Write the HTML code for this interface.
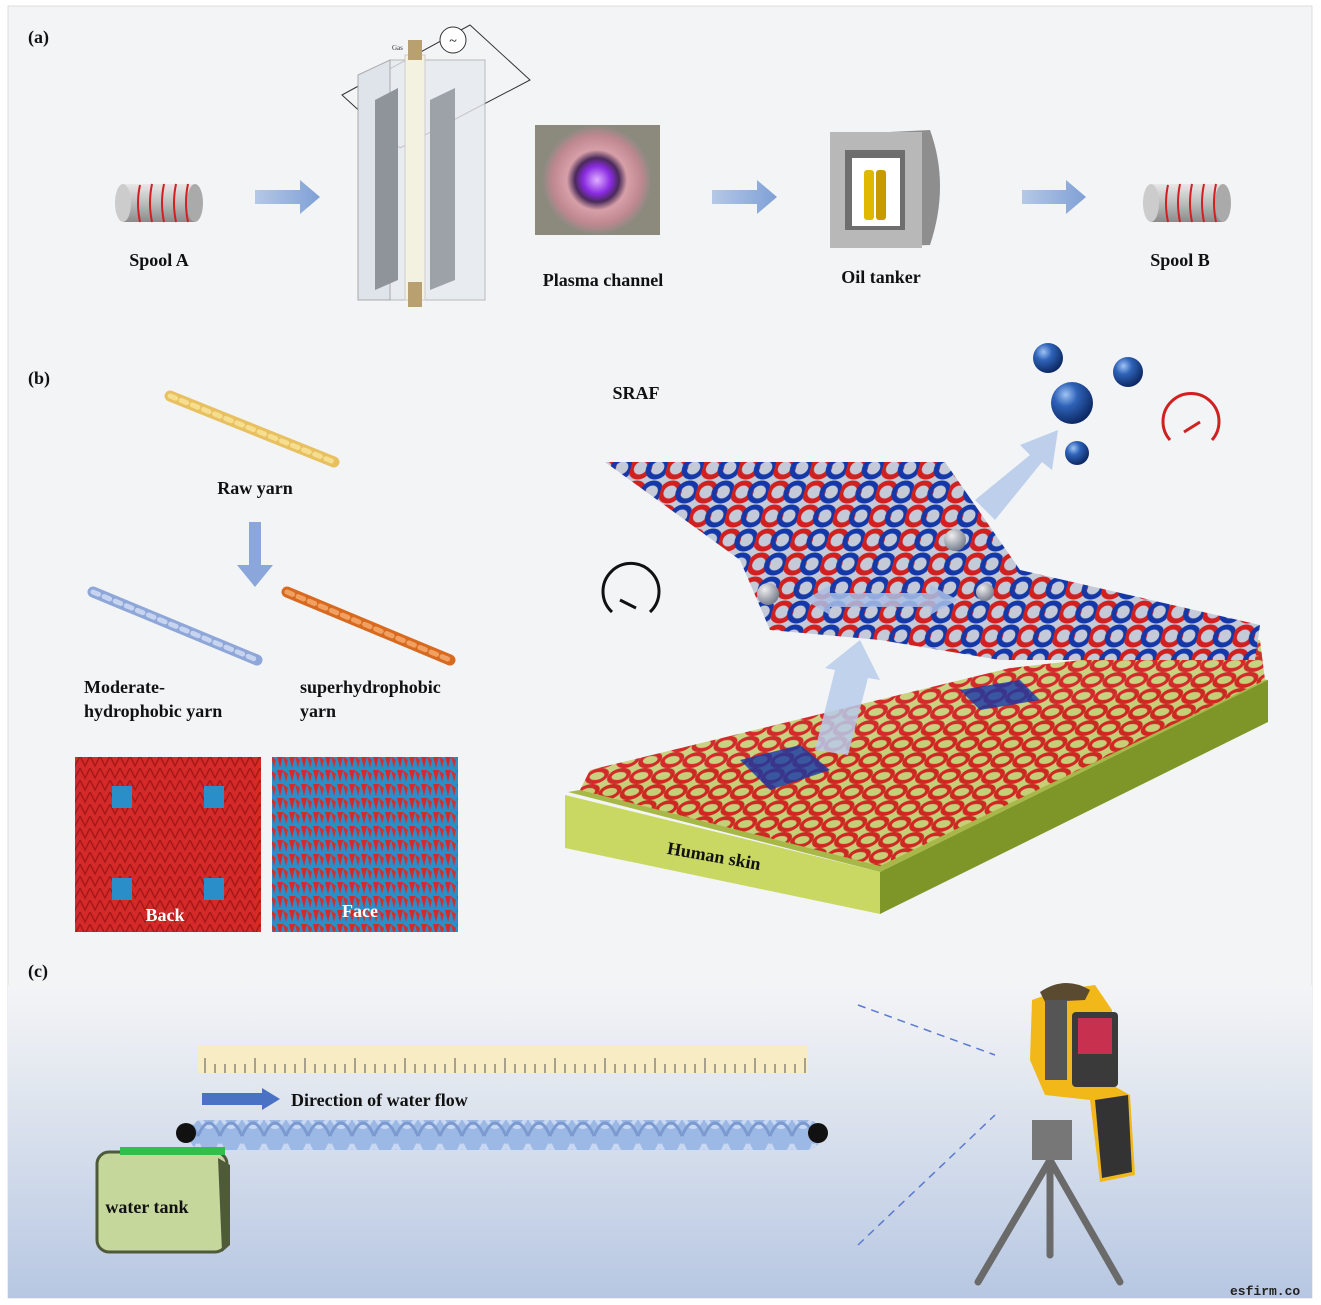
<!DOCTYPE html>
<html><head><meta charset="utf-8"><style>
html,body{margin:0;padding:0;background:#fff;}
svg{display:block;font-family:"Liberation Serif",serif;}
.l{font-weight:bold;font-size:18px;fill:#111;}
</style></head><body>
<svg width="1321" height="1305" viewBox="0 0 1321 1305" xmlns="http://www.w3.org/2000/svg">
<defs>
<linearGradient id="bgc" x1="0" y1="0" x2="0" y2="1"><stop offset="0" stop-color="#f3f4f6"/><stop offset="0.3" stop-color="#e3e8f0"/><stop offset="1" stop-color="#b7c7e2"/></linearGradient>
<linearGradient id="cyl" x1="0" y1="0" x2="0" y2="1"><stop offset="0" stop-color="#e8e8e8"/><stop offset="0.5" stop-color="#bdbdbd"/><stop offset="1" stop-color="#8a8a8a"/></linearGradient>
<linearGradient id="arr" x1="0" y1="0" x2="1" y2="0"><stop offset="0" stop-color="#b5c8e6"/><stop offset="1" stop-color="#7fa0d6"/></linearGradient>
<radialGradient id="ball" cx="0.35" cy="0.3" r="0.7"><stop offset="0" stop-color="#9fc3f5"/><stop offset="0.4" stop-color="#2f63b8"/><stop offset="1" stop-color="#0d2a66"/></radialGradient>
<radialGradient id="gball" cx="0.35" cy="0.3" r="0.7"><stop offset="0" stop-color="#eee"/><stop offset="1" stop-color="#7a8090"/></radialGradient>
<radialGradient id="pl" cx="0.5" cy="0.5" r="0.5"><stop offset="0" stop-color="#e0b0ff"/><stop offset="0.25" stop-color="#8a2be2"/><stop offset="0.4" stop-color="#4a2a5a"/><stop offset="0.55" stop-color="#d7a0a8"/><stop offset="0.8" stop-color="#c08890"/><stop offset="1" stop-color="#8a8a80"/></radialGradient>
<pattern id="knitR" width="10" height="12" patternUnits="userSpaceOnUse"><rect width="10" height="12" fill="#d42a2a"/><path d="M0 0 L5 10 L10 0" stroke="#a81818" stroke-width="1.5" fill="none"/></pattern>
<pattern id="knitF" width="12" height="14" patternUnits="userSpaceOnUse"><rect width="12" height="14" fill="#2a8fc8"/><path d="M1 0 L4 12 L7 0Z" fill="#d42a2a"/><path d="M7 0 L10 12 L12 4" fill="#d03030"/></pattern>
<pattern id="loopR" width="22" height="16" patternUnits="userSpaceOnUse" patternTransform="skewX(-30)"><rect width="22" height="16" fill="#c7d07a"/><ellipse cx="11" cy="8" rx="9" ry="6" fill="none" stroke="#d02020" stroke-width="4"/></pattern>
<pattern id="loopRB" width="36" height="24" patternUnits="userSpaceOnUse" patternTransform="skewX(-15)"><rect width="36" height="24" fill="#c4cad8"/><ellipse cx="10" cy="12" rx="9" ry="9" fill="none" stroke="#d02020" stroke-width="5"/><ellipse cx="27" cy="12" rx="9" ry="9" fill="none" stroke="#1538a8" stroke-width="5"/></pattern>
<pattern id="rope" width="22" height="30" patternUnits="userSpaceOnUse"><rect width="22" height="30" fill="#9cb8e4"/><path d="M0 4 Q11 30 22 4" stroke="#c8d8f2" stroke-width="4" fill="none"/><path d="M0 26 Q11 0 22 26" stroke="#7c9ad0" stroke-width="3" fill="none"/></pattern>
</defs>

<rect x="8" y="6" width="1304" height="1292" fill="#f3f4f6" stroke="#ddd"/>
<rect x="8" y="985" width="1304" height="313" fill="url(#bgc)"/>

<text x="28" y="43" class="l" font-size="17">(a)</text>
<text x="28" y="384" class="l" font-size="17">(b)</text>
<text x="28" y="977" class="l" font-size="17">(c)</text>

<g>
<rect x="123" y="184" width="72" height="38" fill="url(#cyl)"/>
<ellipse cx="123" cy="203" rx="8" ry="19" fill="#ccc"/>
<ellipse cx="195" cy="203" rx="8" ry="19" fill="#aaa"/>
<g stroke="#d02020" stroke-width="2" fill="none"><path d="M140 185 Q136 203 140 222"/><path d="M152 184 Q148 203 152 222"/><path d="M164 184 Q160 203 164 222"/><path d="M176 184 Q172 203 176 222"/><path d="M188 184 Q184 203 188 222"/></g>
</g>
<text x="159" y="266" class="l" text-anchor="middle">Spool A</text>
<g>
<rect x="1151" y="184" width="72" height="38" fill="url(#cyl)"/>
<ellipse cx="1151" cy="203" rx="8" ry="19" fill="#ccc"/>
<ellipse cx="1223" cy="203" rx="8" ry="19" fill="#aaa"/>
<g stroke="#d02020" stroke-width="2" fill="none"><path d="M1168 185 Q1164 203 1168 222"/><path d="M1180 184 Q1176 203 1180 222"/><path d="M1192 184 Q1188 203 1192 222"/><path d="M1204 184 Q1200 203 1204 222"/><path d="M1216 184 Q1212 203 1216 222"/></g>
</g>
<text x="1180" y="266" class="l" text-anchor="middle">Spool B</text>

<g fill="url(#arr)">
<path d="M255 190 L300 190 L300 180 L320 197 L300 214 L300 204 L255 204Z"/>
<path d="M712 190 L757 190 L757 180 L777 197 L757 214 L757 204 L712 204Z"/>
<path d="M1022 190 L1066 190 L1066 180 L1086 197 L1066 214 L1066 204 L1022 204Z"/>
</g>

<g>
<path d="M342 95 L470 25 L530 80 L400 148Z" fill="none" stroke="#333" stroke-width="1"/>
<path d="M358 75 L390 60 L390 300 L358 300Z" fill="#dfe3ea" stroke="#aaa"/>
<path d="M390 60 L485 60 L485 300 L390 300Z" fill="#e6e9ef" opacity="0.8" stroke="#aaa"/>
<path d="M375 100 L398 88 L398 280 L375 290Z" fill="#8f939a"/>
<path d="M430 100 L455 88 L455 280 L430 290Z" fill="#9da1a8"/>
<rect x="405" y="55" width="20" height="245" fill="#f3f1e0" stroke="#ccc"/>
<rect x="408" y="40" width="14" height="20" fill="#b8a070"/>
<rect x="408" y="282" width="14" height="25" fill="#b8a070"/>
<circle cx="453" cy="40" r="13" fill="#fff" stroke="#333"/>
<text x="453" y="45" font-size="14" text-anchor="middle">~</text>
<text x="392" y="50" font-size="7" fill="#333">Gas</text>
</g>
<rect x="535" y="125" width="125" height="110" fill="#8c8a7c"/>
<circle cx="597" cy="180" r="55" fill="url(#pl)"/>
<text x="603" y="286" class="l" text-anchor="middle">Plasma channel</text>
<g>
<path d="M830 135 L930 130 Q950 185 930 245 L830 248Z" fill="#8e8e8e"/>
<rect x="830" y="132" width="92" height="116" fill="#b8b8b8"/>
<rect x="845" y="150" width="60" height="80" fill="#6e6e6e"/>
<rect x="852" y="158" width="48" height="68" fill="#fff"/>
<rect x="864" y="170" width="10" height="50" rx="3" fill="#e0b800"/>
<rect x="876" y="170" width="10" height="50" rx="3" fill="#c89a00"/>
</g>
<text x="881" y="283" class="l" text-anchor="middle">Oil tanker</text>

<g stroke-linecap="round">
<line x1="170" y1="396" x2="334" y2="462" stroke="#e8c060" stroke-width="11"/>
<line x1="170" y1="396" x2="334" y2="462" stroke="#f5de90" stroke-width="5" stroke-dasharray="6 6"/>
<line x1="93" y1="592" x2="257" y2="660" stroke="#8ea6d8" stroke-width="11"/>
<line x1="93" y1="592" x2="257" y2="660" stroke="#c7d4f0" stroke-width="5" stroke-dasharray="6 6"/>
<line x1="287" y1="592" x2="450" y2="660" stroke="#d86a20" stroke-width="11"/>
<line x1="287" y1="592" x2="450" y2="660" stroke="#f0a060" stroke-width="5" stroke-dasharray="6 6"/>
</g>
<text x="255" y="494" class="l" text-anchor="middle">Raw yarn</text>
<path d="M249 522 L261 522 L261 565 L273 565 L255 587 L237 565 L249 565Z" fill="#8aa6da"/>
<text x="84" y="693" class="l">Moderate-</text>
<text x="84" y="717" class="l">hydrophobic yarn</text>
<text x="300" y="693" class="l">superhydrophobic</text>
<text x="300" y="717" class="l">yarn</text>
<rect x="75" y="757" width="186" height="175" fill="url(#knitR)"/>
<g fill="#2a8fc8"><rect x="112" y="786" width="20" height="22"/><rect x="204" y="786" width="20" height="22"/><rect x="112" y="878" width="20" height="22"/><rect x="204" y="878" width="20" height="22"/></g>
<text x="165" y="921" class="l" style="fill:#fff" text-anchor="middle">Back</text>
<rect x="272" y="757" width="186" height="175" fill="url(#knitF)"/>
<text x="360" y="917" class="l" style="fill:#fff" text-anchor="middle">Face</text>

<text x="636" y="399" class="l" text-anchor="middle">SRAF</text>
<path d="M612 612 A28 28 0 1 1 650 612" fill="none" stroke="#111" stroke-width="3"/>
<line x1="620" y1="600" x2="636" y2="608" stroke="#111" stroke-width="3"/>
<path d="M1170 440 A28 28 0 1 1 1212 440" fill="none" stroke="#d02020" stroke-width="3"/>
<line x1="1184" y1="432" x2="1200" y2="422" stroke="#d02020" stroke-width="3"/>
<circle cx="1048" cy="358" r="15" fill="url(#ball)"/>
<circle cx="1128" cy="372" r="15" fill="url(#ball)"/>
<circle cx="1072" cy="403" r="21" fill="url(#ball)"/>
<circle cx="1077" cy="453" r="12" fill="url(#ball)"/>
<path d="M568 792 L1238 676 L1268 680 L880 872Z" fill="#a8b848"/>
<path d="M565 795 L880 872 L880 914 L565 848Z" fill="#c9d862"/>
<path d="M880 872 L1268 680 L1268 722 L880 914Z" fill="#7e9628"/>
<text x="714" y="862" class="l" transform="rotate(10 714 856)" text-anchor="middle">Human skin</text>
<path d="M590 770 L1010 668 L1260 640 L1265 680 L880 866 L580 790Z" fill="url(#loopR)" opacity="0.95"/>
<path d="M740 760 L800 745 L830 770 L770 790Z" fill="#1538a8" opacity="0.8"/>
<path d="M960 690 L1020 680 L1040 700 L980 710Z" fill="#1538a8" opacity="0.8"/>
<path d="M605 462 L945 462 L1020 570 L1260 625 L1255 660 L1000 660 L880 640 L770 630 L740 560Z" fill="url(#loopRB)"/>
<path d="M815 750 L835 670 L825 668 L860 640 L880 680 L868 678 L848 755Z" fill="#b7cbea" opacity="0.85"/>
<path d="M805 600 L830 585 L830 593 L930 593 L930 585 L958 600 L930 615 L930 607 L830 607 L830 615Z" fill="#a9c0e6" opacity="0.85"/>
<path d="M975 500 L1030 455 L1020 445 L1058 430 L1052 470 L1042 462 L995 520Z" fill="#b7cbea" opacity="0.9"/>
<circle cx="955" cy="540" r="11" fill="url(#gball)"/>
<circle cx="768" cy="594" r="11" fill="url(#gball)"/>
<circle cx="985" cy="592" r="9" fill="url(#gball)"/>

<rect x="198" y="1045" width="610" height="28" fill="#f7ecc4"/>
<g stroke="#555" stroke-width="1">
<path d="M205 1073V1058M215 1073V1064M225 1073V1064M235 1073V1064M245 1073V1064M255 1073V1058M265 1073V1064M275 1073V1064M285 1073V1064M295 1073V1064M305 1073V1058M315 1073V1064M325 1073V1064M335 1073V1064M345 1073V1064M355 1073V1058M365 1073V1064M375 1073V1064M385 1073V1064M395 1073V1064M405 1073V1058M415 1073V1064M425 1073V1064M435 1073V1064M445 1073V1064M455 1073V1058M465 1073V1064M475 1073V1064M485 1073V1064M495 1073V1064M505 1073V1058M515 1073V1064M525 1073V1064M535 1073V1064M545 1073V1064M555 1073V1058M565 1073V1064M575 1073V1064M585 1073V1064M595 1073V1064M605 1073V1058M615 1073V1064M625 1073V1064M635 1073V1064M645 1073V1064M655 1073V1058M665 1073V1064M675 1073V1064M685 1073V1064M695 1073V1064M705 1073V1058M715 1073V1064M725 1073V1064M735 1073V1064M745 1073V1064M755 1073V1058M765 1073V1064M775 1073V1064M785 1073V1064M795 1073V1064M805 1073V1058"/>
</g>
<path d="M202 1093 L262 1093 L262 1088 L280 1099 L262 1110 L262 1105 L202 1105Z" fill="#4a72c4"/>
<text x="291" y="1106" class="l">Direction of water flow</text>
<rect x="190" y="1120" width="630" height="30" rx="12" fill="url(#rope)"/>
<circle cx="186" cy="1133" r="10" fill="#111"/>
<circle cx="818" cy="1133" r="10" fill="#111"/>
<rect x="97" y="1152" width="130" height="100" rx="12" fill="#c5d79a" stroke="#4e5a3a" stroke-width="3"/>
<rect x="120" y="1147" width="105" height="8" fill="#2fbf4a"/>
<path d="M218 1158 L230 1165 L230 1245 L222 1252Z" fill="#4e5a3a"/>
<text x="147" y="1213" class="l" text-anchor="middle">water tank</text>
<g stroke="#5a7ad0" stroke-width="1.5" stroke-dasharray="8 6"><line x1="858" y1="1005" x2="995" y2="1055"/><line x1="858" y1="1245" x2="995" y2="1115"/></g>
<g stroke="#6a6a6a" stroke-width="7" stroke-linecap="round"><line x1="1050" y1="1160" x2="978" y2="1282"/><line x1="1050" y1="1160" x2="1050" y2="1255"/><line x1="1050" y1="1160" x2="1120" y2="1282"/></g>
<rect x="1032" y="1120" width="40" height="40" fill="#777"/>
<path d="M1032 1000 L1060 990 L1095 985 L1112 1010 L1112 1085 L1130 1095 L1135 1175 L1100 1182 L1090 1100 L1045 1095 L1030 1060Z" fill="#f2b81a"/>
<path d="M1040 992 Q1065 975 1090 990 L1085 1000 L1045 1002Z" fill="#5a4a30"/>
<rect x="1072" y="1012" width="46" height="75" rx="4" fill="#3a3a3a"/>
<rect x="1078" y="1018" width="34" height="36" fill="#c83050"/>
<path d="M1095 1100 L1128 1095 L1132 1172 L1102 1178Z" fill="#333"/>
<rect x="1045" y="1000" width="22" height="80" fill="#555"/>
<text x="1230" y="1295" font-family="Liberation Mono,monospace" font-size="13" font-weight="bold" fill="#222">esfirm.co</text>
</svg>
</body></html>
